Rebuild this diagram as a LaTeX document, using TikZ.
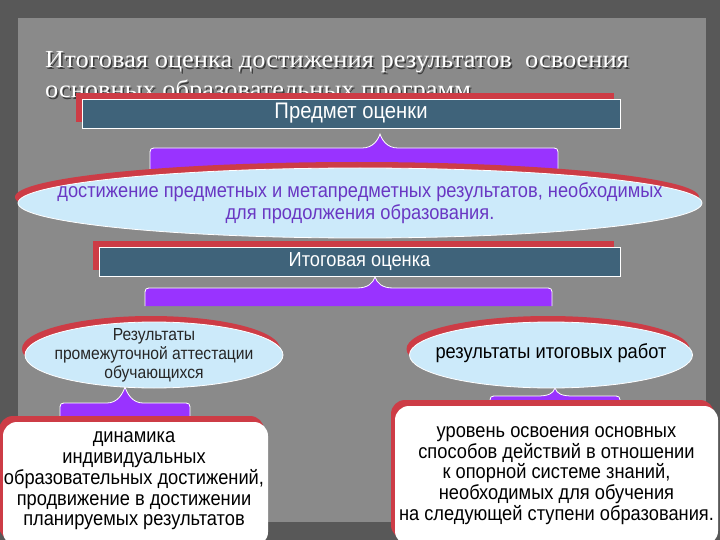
\documentclass[tikz,border=0pt]{standalone}
\usepackage{fontspec}
\setmainfont{Liberation Serif}
\newfontfamily\sansf[FakeStretch=0.9]{Liberation Sans}
\newfontfamily\titlef[FakeStretch=1.08]{Liberation Serif}
\usetikzlibrary{shapes.geometric,shadows}
\definecolor{bgdark}{RGB}{88,88,88}
\definecolor{paper}{RGB}{138,138,138}
\definecolor{boxblue}{RGB}{63,99,122}
\definecolor{shred}{RGB}{205,60,70}
\definecolor{bracepurple}{RGB}{153,51,255}
\definecolor{elllight}{RGB}{204,234,250}
\definecolor{elltext}{RGB}{105,55,195}
\definecolor{titleshadow}{RGB}{60,60,60}
\newcommand\purplebrace[6]{%
  \fill[bracepurple] (#1,#6) -- (#1,#5+8) .. controls (#1,#5) .. (#1+8,#5)
    -- (#3-18,#5) .. controls (#3-7,#5) and (#3-2,#4+6) .. (#3,#4)
    .. controls (#3+2,#4+6) and (#3+7,#5) .. (#3+18,#5)
    -- (#2-8,#5) .. controls (#2,#5) .. (#2,#5+8) -- (#2,#6) -- cycle;
  \draw[white,line width=0.8pt] (#1,#6) -- (#1,#5+8) .. controls (#1,#5) .. (#1+8,#5)
    -- (#3-18,#5) .. controls (#3-7,#5) and (#3-2,#4+6) .. (#3,#4)
    .. controls (#3+2,#4+6) and (#3+7,#5) .. (#3+18,#5)
    -- (#2-8,#5) .. controls (#2,#5) .. (#2,#5+8) -- (#2,#6);
}
\begin{document}
\begin{tikzpicture}[x=1pt,y=-1pt,
  bluebox/.style={rectangle,fill=boxblue,draw=white,line width=0.8pt,inner sep=0pt,
    text=white,font=\sansf\fontsize{20.3}{23}\selectfont,
    general shadow={fill=shred,shadow xshift=-6pt,shadow yshift=6pt}},
  lightell/.style={ellipse,fill=elllight,draw=white,line width=0.8pt,inner sep=0pt,
    general shadow={fill=shred,shadow xshift=-3pt,shadow yshift=6pt}},
  whitebox/.style={rectangle,rounded corners=14pt,fill=white,inner sep=0pt,
    general shadow={fill=shred,shadow xshift=-4pt,shadow yshift=6pt}},
  bodytext/.style={align=center,text=black,font=\sansf\fontsize{20.3}{20.8}\selectfont},
  titletext/.style={anchor=base west,inner sep=0pt,font=\titlef\fontsize{24.5}{28}\selectfont}
]
\useasboundingbox (0,0) rectangle (720,540);
\fill[bgdark] (0,0) rectangle (720,540);
\fill[paper] (18,18) rectangle (706,522);

% title
\node[titletext,text=titleshadow] (t1s) at (46.5,69.5) {Итоговая оценка достижения результатов\ \ освоения};
\node[titletext,text=titleshadow] (t2s) at (46.5,99.5) {основных образовательных программ};
\node[titletext,text=white] (t1) at (45,68) {Итоговая оценка достижения результатов\ \ освоения};
\node[titletext,text=white] (t2) at (45,98) {основных образовательных программ};

% braces
\purplebrace{150}{558}{380}{134}{148}{180}
\purplebrace{145}{552}{375}{277}{288}{306}
\purplebrace{60}{190}{125}{387}{403}{430}
\purplebrace{490}{620}{555}{388}{396}{420}

% boxes
\node[bluebox,minimum width=538pt,minimum height=29pt,font=\sansf\fontsize{22.5}{24}\selectfont] (subj) at (351,113.5) {Предмет оценки};
\node[lightell,minimum width=684pt,minimum height=70pt] (ach) at (360,203) {};
\node[align=center,text=elltext,font=\sansf\fontsize{20.3}{22}\selectfont] (achtext) at (ach.center)
  {достижение предметных и метапредметных результатов, необходимых\\для продолжения образования.};
\node[bluebox,minimum width=521pt,minimum height=29pt] (final) at (359.5,261.5) {Итоговая оценка};

\node[lightell,minimum width=258pt,minimum height=66pt] (inter) at (154,355) {};
\node[align=center,text=black!85,font=\sansf\fontsize{17.4}{19}\selectfont] (intertext) at (inter.center)
  {Результаты\\промежуточной аттестации\\обучающихся};
\node[lightell,minimum width=283pt,minimum height=66pt] (works) at (551,355) {};
\node[text=black,font=\sansf\fontsize{20.3}{22}\selectfont] (workstext) at ([yshift=2pt]works.center)
  {результаты итоговых работ};

\node[whitebox,minimum width=265pt,minimum height=124pt] (lbox) at (135.5,484) {};
\node[bodytext] (ltext) at (134,481) {динамика\\индивидуальных\\образовательных достижений,\\продвижение в достижении\\планируемых результатов};
\node[whitebox,bodytext,minimum width=323pt,minimum height=139pt] (rbox) at (556.5,475.5)
  {уровень освоения основных\\способов действий в отношении\\к опорной системе знаний,\\необходимых для обучения\\на следующей ступени образования.};
\end{tikzpicture}
\end{document}
